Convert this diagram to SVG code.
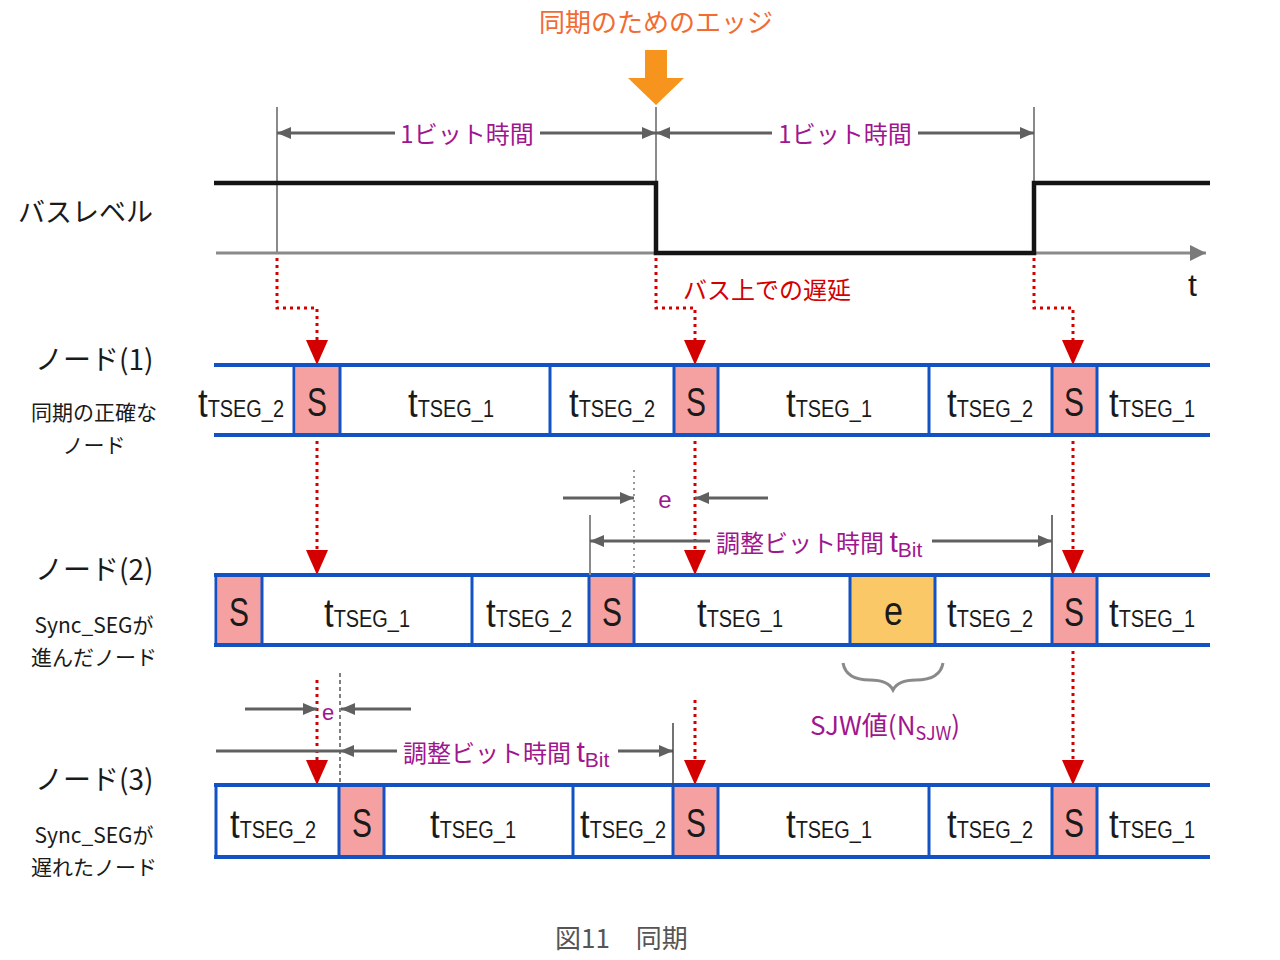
<svg xmlns="http://www.w3.org/2000/svg" xmlns:xlink="http://www.w3.org/1999/xlink" width="1280" height="960" viewBox="0 0 1280 960">
<style>
.jp{font-family:"Noto Sans CJK JP","Noto Sans",sans-serif}
.lat{font-family:"Liberation Sans",Arial,sans-serif}
.pur{fill:#A0168E}
.blk{fill:#1a1a1a}
.vgray{stroke:#8a8a8a;stroke-width:2;fill:none}
.dim{stroke:#606060;stroke-width:3;fill:none}
.reddot{stroke:#D40000;stroke-width:3;stroke-dasharray:3 4;fill:none}
.rowline{stroke:#1352C2;stroke-width:4;fill:none}
.div{stroke:#1352C2;stroke-width:3;fill:none}
.sfill{fill:#F6A1A1}
.efill{fill:#FBC868}
.seg{font-family:"Liberation Sans",Arial,sans-serif;font-size:40px;fill:#1a1a1a}
.sub{font-size:23px}
.s{font-family:"Liberation Sans",Arial,sans-serif;font-size:40px;fill:#1a1a1a}
</style>
<defs>
<marker id="ga" viewBox="0 0 14 12" refX="14" refY="6" markerWidth="14" markerHeight="12" markerUnits="userSpaceOnUse" orient="auto-start-reverse">
<path d="M0,0 L14,6 L0,12 z" fill="#606060"/>
</marker>
<marker id="axa" viewBox="0 0 16 16" refX="16" refY="8" markerWidth="16" markerHeight="16" markerUnits="userSpaceOnUse" orient="auto">
<path d="M0,0 L16,8 L0,16 z" fill="#7a7a7a"/>
</marker>
<path id="rh" d="M-11,-25 L11,-25 L0,0 z" fill="#D40000"/>
</defs>
<rect width="1280" height="960" fill="#ffffff"/>

<g id="title">
<text class="jp" x="656" y="32" text-anchor="middle" font-size="26" fill="#F26B32">同期のためのエッジ</text>
<polygon points="645,50 667,50 667,78 684,78 656,105 628,78 645,78" fill="#F7941D"/>
</g>

<g id="buslevel">
<text class="jp blk" x="18" y="222" font-size="27">バスレベル</text>
<line class="vgray" x1="277" y1="107" x2="277" y2="253"/>
<line class="vgray" x1="656" y1="107" x2="656" y2="253"/>
<line class="vgray" x1="1034" y1="107" x2="1034" y2="253"/>
<line x1="216" y1="253" x2="1206" y2="253" stroke="#8a8a8a" stroke-width="3" marker-end="url(#axa)"/>
<polyline points="214,183 656,183 656,253 1034,253 1034,183 1210,183" fill="none" stroke="#141414" stroke-width="4.5"/>
<text class="lat blk" x="1188" y="296" font-size="32">t</text>
<line class="dim" x1="277" y1="133" x2="395" y2="133" marker-start="url(#ga)"/>
<line class="dim" x1="540" y1="133" x2="656" y2="133" marker-end="url(#ga)"/>
<text class="jp pur" x="467" y="143" text-anchor="middle" font-size="24">1ビット時間</text>
<line class="dim" x1="656" y1="133" x2="772" y2="133" marker-start="url(#ga)"/>
<line class="dim" x1="918" y1="133" x2="1034" y2="133" marker-end="url(#ga)"/>
<text class="jp pur" x="845" y="143" text-anchor="middle" font-size="24">1ビット時間</text>
<text class="jp" x="683" y="299" font-size="24" fill="#D40000">バス上での遅延</text>
</g>

<g id="connectors">
<polyline class="reddot" points="277,258 277,308 317,308 317,342"/>
<polyline class="reddot" points="656,258 656,308 695,308 695,342"/>
<polyline class="reddot" points="1034,258 1034,308 1073,308 1073,342"/>
<use xlink:href="#rh" x="317" y="365"/>
<use xlink:href="#rh" x="695" y="365"/>
<use xlink:href="#rh" x="1073" y="365"/>
<line class="reddot" x1="317" y1="441" x2="317" y2="552"/>
<line class="reddot" x1="695" y1="441" x2="695" y2="552"/>
<line class="reddot" x1="1073" y1="441" x2="1073" y2="552"/>
<use xlink:href="#rh" x="317" y="575"/>
<use xlink:href="#rh" x="695" y="575"/>
<use xlink:href="#rh" x="1073" y="575"/>
<line class="reddot" x1="317" y1="680" x2="317" y2="762"/>
<line class="reddot" x1="695" y1="700" x2="695" y2="762"/>
<line class="reddot" x1="1073" y1="651" x2="1073" y2="762"/>
<use xlink:href="#rh" x="317" y="785"/>
<use xlink:href="#rh" x="695" y="785"/>
<use xlink:href="#rh" x="1073" y="785"/>
</g>

<g id="node1">
<text class="jp blk" x="35" y="370" font-size="28">ノード(1)</text>
<text class="jp blk" x="94" y="420" text-anchor="middle" font-size="21">同期の正確な</text>
<text class="jp blk" x="94" y="453" text-anchor="middle" font-size="21">ノード</text>
<rect class="sfill" x="296" y="367" width="43" height="66"/>
<rect class="sfill" x="675" y="367" width="42" height="66"/>
<rect class="sfill" x="1053" y="367" width="43" height="66"/>
<line class="rowline" x1="214" y1="365" x2="1210" y2="365"/>
<line class="rowline" x1="214" y1="435" x2="1210" y2="435"/>
<path class="div" d="M294,365V435M340,365V435M550,365V435M674,365V435M718,365V435M929,365V435M1052,365V435M1097,365V435"/>
<text class="seg" x="198" y="417" textLength="86" lengthAdjust="spacingAndGlyphs">t<tspan class="sub">TSEG_2</tspan></text>
<text class="s" x="307" y="416" textLength="20" lengthAdjust="spacingAndGlyphs">S</text>
<text class="seg" x="408" y="417" textLength="86" lengthAdjust="spacingAndGlyphs">t<tspan class="sub">TSEG_1</tspan></text>
<text class="seg" x="569" y="417" textLength="86" lengthAdjust="spacingAndGlyphs">t<tspan class="sub">TSEG_2</tspan></text>
<text class="s" x="686" y="416" textLength="20" lengthAdjust="spacingAndGlyphs">S</text>
<text class="seg" x="786" y="417" textLength="86" lengthAdjust="spacingAndGlyphs">t<tspan class="sub">TSEG_1</tspan></text>
<text class="seg" x="947" y="417" textLength="86" lengthAdjust="spacingAndGlyphs">t<tspan class="sub">TSEG_2</tspan></text>
<text class="s" x="1064" y="416" textLength="20" lengthAdjust="spacingAndGlyphs">S</text>
<text class="seg" x="1109" y="417" textLength="86" lengthAdjust="spacingAndGlyphs">t<tspan class="sub">TSEG_1</tspan></text>
</g>

<g id="node2">
<text class="jp blk" x="35" y="580" font-size="28">ノード(2)</text>
<text class="jp blk" x="94" y="633" text-anchor="middle" font-size="21">Sync_SEGが</text>
<text class="jp blk" x="94" y="665" text-anchor="middle" font-size="21">進んだノード</text>
<rect class="sfill" x="218" y="577" width="43" height="66"/>
<rect class="sfill" x="590" y="577" width="43" height="66"/>
<rect class="efill" x="851" y="577" width="83" height="66"/>
<rect class="sfill" x="1053" y="577" width="43" height="66"/>
<line class="rowline" x1="214" y1="575" x2="1210" y2="575"/>
<line class="rowline" x1="214" y1="645" x2="1210" y2="645"/>
<path class="div" d="M216,575V645M262,575V645M472,575V645M589,575V645M634,575V645M850,575V645M935,575V645M1052,575V645M1097,575V645"/>
<text class="s" x="229" y="626" textLength="20" lengthAdjust="spacingAndGlyphs">S</text>
<text class="seg" x="324" y="627" textLength="86" lengthAdjust="spacingAndGlyphs">t<tspan class="sub">TSEG_1</tspan></text>
<text class="seg" x="486" y="627" textLength="86" lengthAdjust="spacingAndGlyphs">t<tspan class="sub">TSEG_2</tspan></text>
<text class="s" x="602" y="626" textLength="20" lengthAdjust="spacingAndGlyphs">S</text>
<text class="seg" x="697" y="627" textLength="86" lengthAdjust="spacingAndGlyphs">t<tspan class="sub">TSEG_1</tspan></text>
<text class="s" x="884" y="625" textLength="19" lengthAdjust="spacingAndGlyphs">e</text>
<text class="seg" x="947" y="627" textLength="86" lengthAdjust="spacingAndGlyphs">t<tspan class="sub">TSEG_2</tspan></text>
<text class="s" x="1064" y="626" textLength="20" lengthAdjust="spacingAndGlyphs">S</text>
<text class="seg" x="1109" y="627" textLength="86" lengthAdjust="spacingAndGlyphs">t<tspan class="sub">TSEG_1</tspan></text>
<line x1="634" y1="470" x2="634" y2="575" stroke="#9a9a9a" stroke-width="2" stroke-dasharray="2 4"/>
<line class="dim" x1="563" y1="498" x2="634" y2="498" marker-end="url(#ga)"/>
<line class="dim" x1="768" y1="498" x2="695" y2="498" marker-end="url(#ga)"/>
<text class="lat pur" x="665" y="508" text-anchor="middle" font-size="24">e</text>
<line class="vgray" x1="590" y1="515" x2="590" y2="575"/>
<line x1="1052" y1="515" x2="1052" y2="575" stroke="#444" stroke-width="1.5"/>
<line class="dim" x1="590" y1="541" x2="710" y2="541" marker-start="url(#ga)"/>
<line class="dim" x1="932" y1="541" x2="1052" y2="541" marker-end="url(#ga)"/>
<text class="jp pur" x="716" y="552" font-size="24">調整ビット時間 <tspan class="lat" font-size="30">t</tspan><tspan class="lat" font-size="21" dy="5">Bit</tspan></text>
<path d="M843,663 Q846,680 870,680 Q888,680 893,690 Q898,680 916,680 Q940,680 943,663" fill="none" stroke="#8a8a8a" stroke-width="3"/>
<text class="jp pur" x="810" y="735" font-size="26">SJW値(N<tspan font-size="18" dy="5">SJW</tspan><tspan dy="-5">)</tspan></text>
</g>

<g id="node3">
<text class="jp blk" x="35" y="790" font-size="28">ノード(3)</text>
<text class="jp blk" x="94" y="843" text-anchor="middle" font-size="21">Sync_SEGが</text>
<text class="jp blk" x="94" y="875" text-anchor="middle" font-size="21">遅れたノード</text>
<rect class="sfill" x="340" y="787" width="43" height="68"/>
<rect class="sfill" x="674" y="787" width="43" height="68"/>
<rect class="sfill" x="1053" y="787" width="43" height="68"/>
<line class="rowline" x1="214" y1="785" x2="1210" y2="785"/>
<line class="rowline" x1="214" y1="857" x2="1210" y2="857"/>
<path class="div" d="M216,785V857M339,785V857M384,785V857M573,785V857M673,785V857M718,785V857M929,785V857M1052,785V857M1097,785V857"/>
<text class="seg" x="230" y="838" textLength="86" lengthAdjust="spacingAndGlyphs">t<tspan class="sub">TSEG_2</tspan></text>
<text class="s" x="352" y="837" textLength="20" lengthAdjust="spacingAndGlyphs">S</text>
<text class="seg" x="430" y="838" textLength="86" lengthAdjust="spacingAndGlyphs">t<tspan class="sub">TSEG_1</tspan></text>
<text class="seg" x="580" y="838" textLength="86" lengthAdjust="spacingAndGlyphs">t<tspan class="sub">TSEG_2</tspan></text>
<text class="s" x="686" y="837" textLength="20" lengthAdjust="spacingAndGlyphs">S</text>
<text class="seg" x="786" y="838" textLength="86" lengthAdjust="spacingAndGlyphs">t<tspan class="sub">TSEG_1</tspan></text>
<text class="seg" x="947" y="838" textLength="86" lengthAdjust="spacingAndGlyphs">t<tspan class="sub">TSEG_2</tspan></text>
<text class="s" x="1064" y="837" textLength="20" lengthAdjust="spacingAndGlyphs">S</text>
<text class="seg" x="1109" y="838" textLength="86" lengthAdjust="spacingAndGlyphs">t<tspan class="sub">TSEG_1</tspan></text>
<line x1="340" y1="673" x2="340" y2="785" stroke="#555" stroke-width="1.5" stroke-dasharray="4 3"/>
<line class="dim" x1="245" y1="709" x2="317" y2="709" marker-end="url(#ga)"/>
<line class="dim" x1="411" y1="709" x2="341" y2="709" marker-end="url(#ga)"/>
<text class="lat pur" x="328" y="720" text-anchor="middle" font-size="22">e</text>
<line class="dim" x1="216" y1="751" x2="340" y2="751"/>
<line class="dim" x1="340" y1="751" x2="397" y2="751" marker-start="url(#ga)"/>
<line class="dim" x1="618" y1="751" x2="673" y2="751" marker-end="url(#ga)"/>
<line x1="673" y1="723" x2="673" y2="785" stroke="#444" stroke-width="1.5"/>
<text class="jp pur" x="403" y="762" font-size="24">調整ビット時間 <tspan class="lat" font-size="30">t</tspan><tspan class="lat" font-size="21" dy="5">Bit</tspan></text>
</g>

<g id="caption">
<text class="jp" x="555" y="948" font-size="26" fill="#555">図11　同期</text>
</g>
</svg>
